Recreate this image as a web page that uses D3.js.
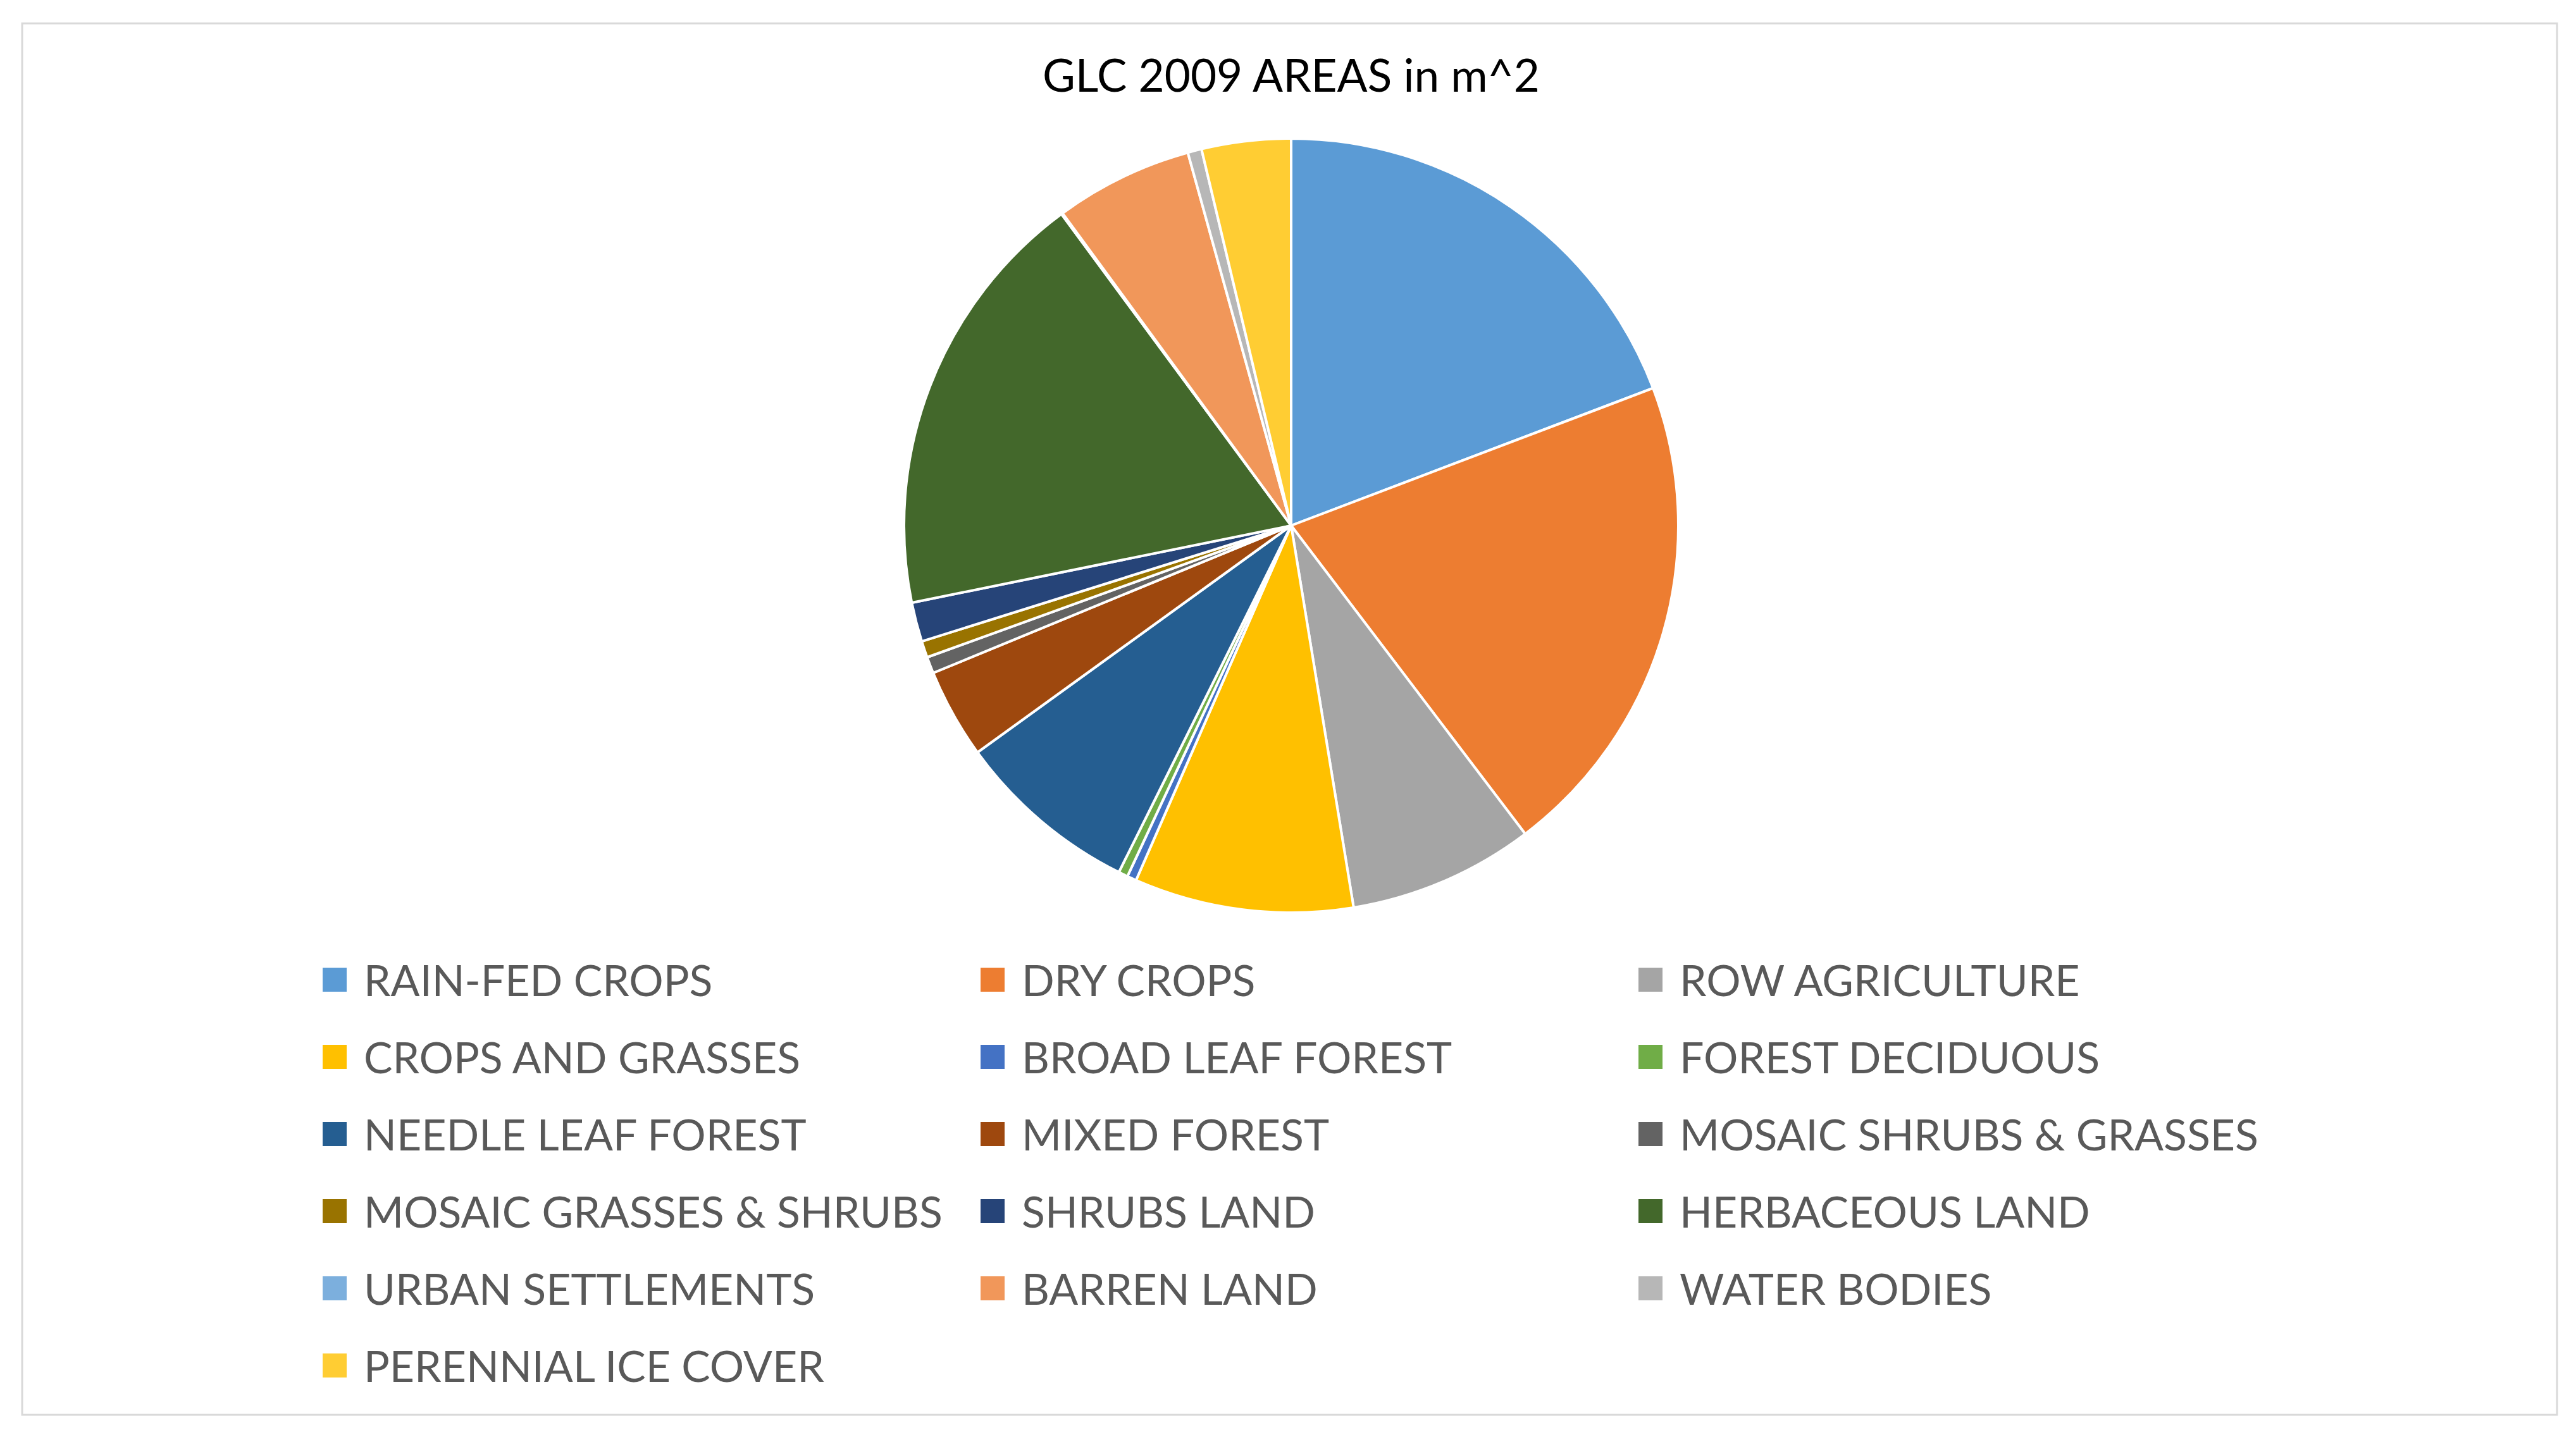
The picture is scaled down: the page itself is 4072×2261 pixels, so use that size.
<!DOCTYPE html>
<html>
<head>
<meta charset="utf-8">
<script src="https://cdn.jsdelivr.net/npm/d3@7"></script>
<style>
  body { margin: 0; background: #fff; }
</style>
</head>
<body>
<div id="chart"></div>
<script>
// land cover classes, in the order Excel draws them (clockwise from 12 o'clock)
var categories = [
  "RAIN-FED CROPS", "DRY CROPS", "ROW AGRICULTURE",
  "CROPS AND GRASSES", "BROAD LEAF FOREST", "FOREST DECIDUOUS",
  "NEEDLE LEAF FOREST", "MIXED FOREST", "MOSAIC SHRUBS & GRASSES",
  "MOSAIC GRASSES & SHRUBS", "SHRUBS LAND", "HERBACEOUS LAND",
  "URBAN SETTLEMENTS", "BARREN LAND", "WATER BODIES",
  "PERENNIAL ICE COVER"
];

// share of total area (%)
var areas = [19.22, 20.44, 7.75, 9.14, 0.39, 0.39, 7.69, 3.75, 0.69, 0.69, 1.64, 18.08, 0.06, 5.75, 0.58, 3.72];

var colors = [
  "#5B9BD5", "#ED7D31", "#A5A5A5", "#FFC000", "#4472C4", "#70AD47",
  "#255E91", "#9E480E", "#636363", "#997300", "#264478", "#43682B",
  "#7CAFDD", "#F1975A", "#B7B7B7", "#FFCD33"
];

var title = "GLC 2009 AREAS in m^2";

var svgWidth = 4072;
var svgHeight = 2261;

var svg = d3.select("#chart")
  .append("svg")
  .attr("width", svgWidth)
  .attr("height", svgHeight);

// chart frame
svg.append("rect")
  .attr("x", 35)
  .attr("y", 37)
  .attr("width", 4007)
  .attr("height", 2200)
  .attr("fill", "#fff")
  .attr("stroke", "#D9D9D9")
  .attr("stroke-width", 3);

svg.append("text")
  .attr("x", 2041)
  .attr("y", 145)
  .attr("text-anchor", "middle")
  .style("font-family", "Lato, 'Open Sans', sans-serif")
  .style("font-size", "71px")
  .attr("fill", "#000")
  .text(title);

var data = categories.map((c, i) => ({ name: c, value: areas[i] }));

var color = d3.scaleOrdinal()
  .domain(categories)
  .range(colors);

var pie = d3.pie()
  .sort(null)
  .value(d => d.value);

var arc = d3.arc()
  .innerRadius(0)
  .outerRadius(612);

var pieGroup = svg.append("g")
  .attr("transform", "translate(2041, 831)");

pieGroup.selectAll("path")
  .data(pie(data))
  .enter()
  .append("path")
  .attr("d", arc)
  .attr("fill", d => color(d.data.name))
  .attr("stroke", "#fff")
  .attr("stroke-width", 4)
  .attr("stroke-linejoin", "round");

// legend, 3 columns
var colX = d3.scalePoint()
  .domain([0, 1, 2])
  .range([510, 2590]);

var rowY = d3.scaleLinear()
  .domain([0, 1])
  .range([1549, 1671]);

var legend = svg.append("g").selectAll("g")
  .data(categories)
  .enter()
  .append("g")
  .attr("transform", (d, i) => `translate(${colX(i % 3)}, ${rowY(Math.floor(i / 3))})`);

legend.append("rect")
  .attr("x", 0)
  .attr("y", -19)
  .attr("width", 38)
  .attr("height", 38)
  .attr("fill", d => color(d));

legend.append("text")
  .attr("x", 65)
  .attr("y", 26)
  .style("font-family", "Lato, 'Open Sans', sans-serif")
  .style("font-size", "68px")
  .attr("fill", "#595959")
  .text(d => d);
</script>
</body>
</html>
